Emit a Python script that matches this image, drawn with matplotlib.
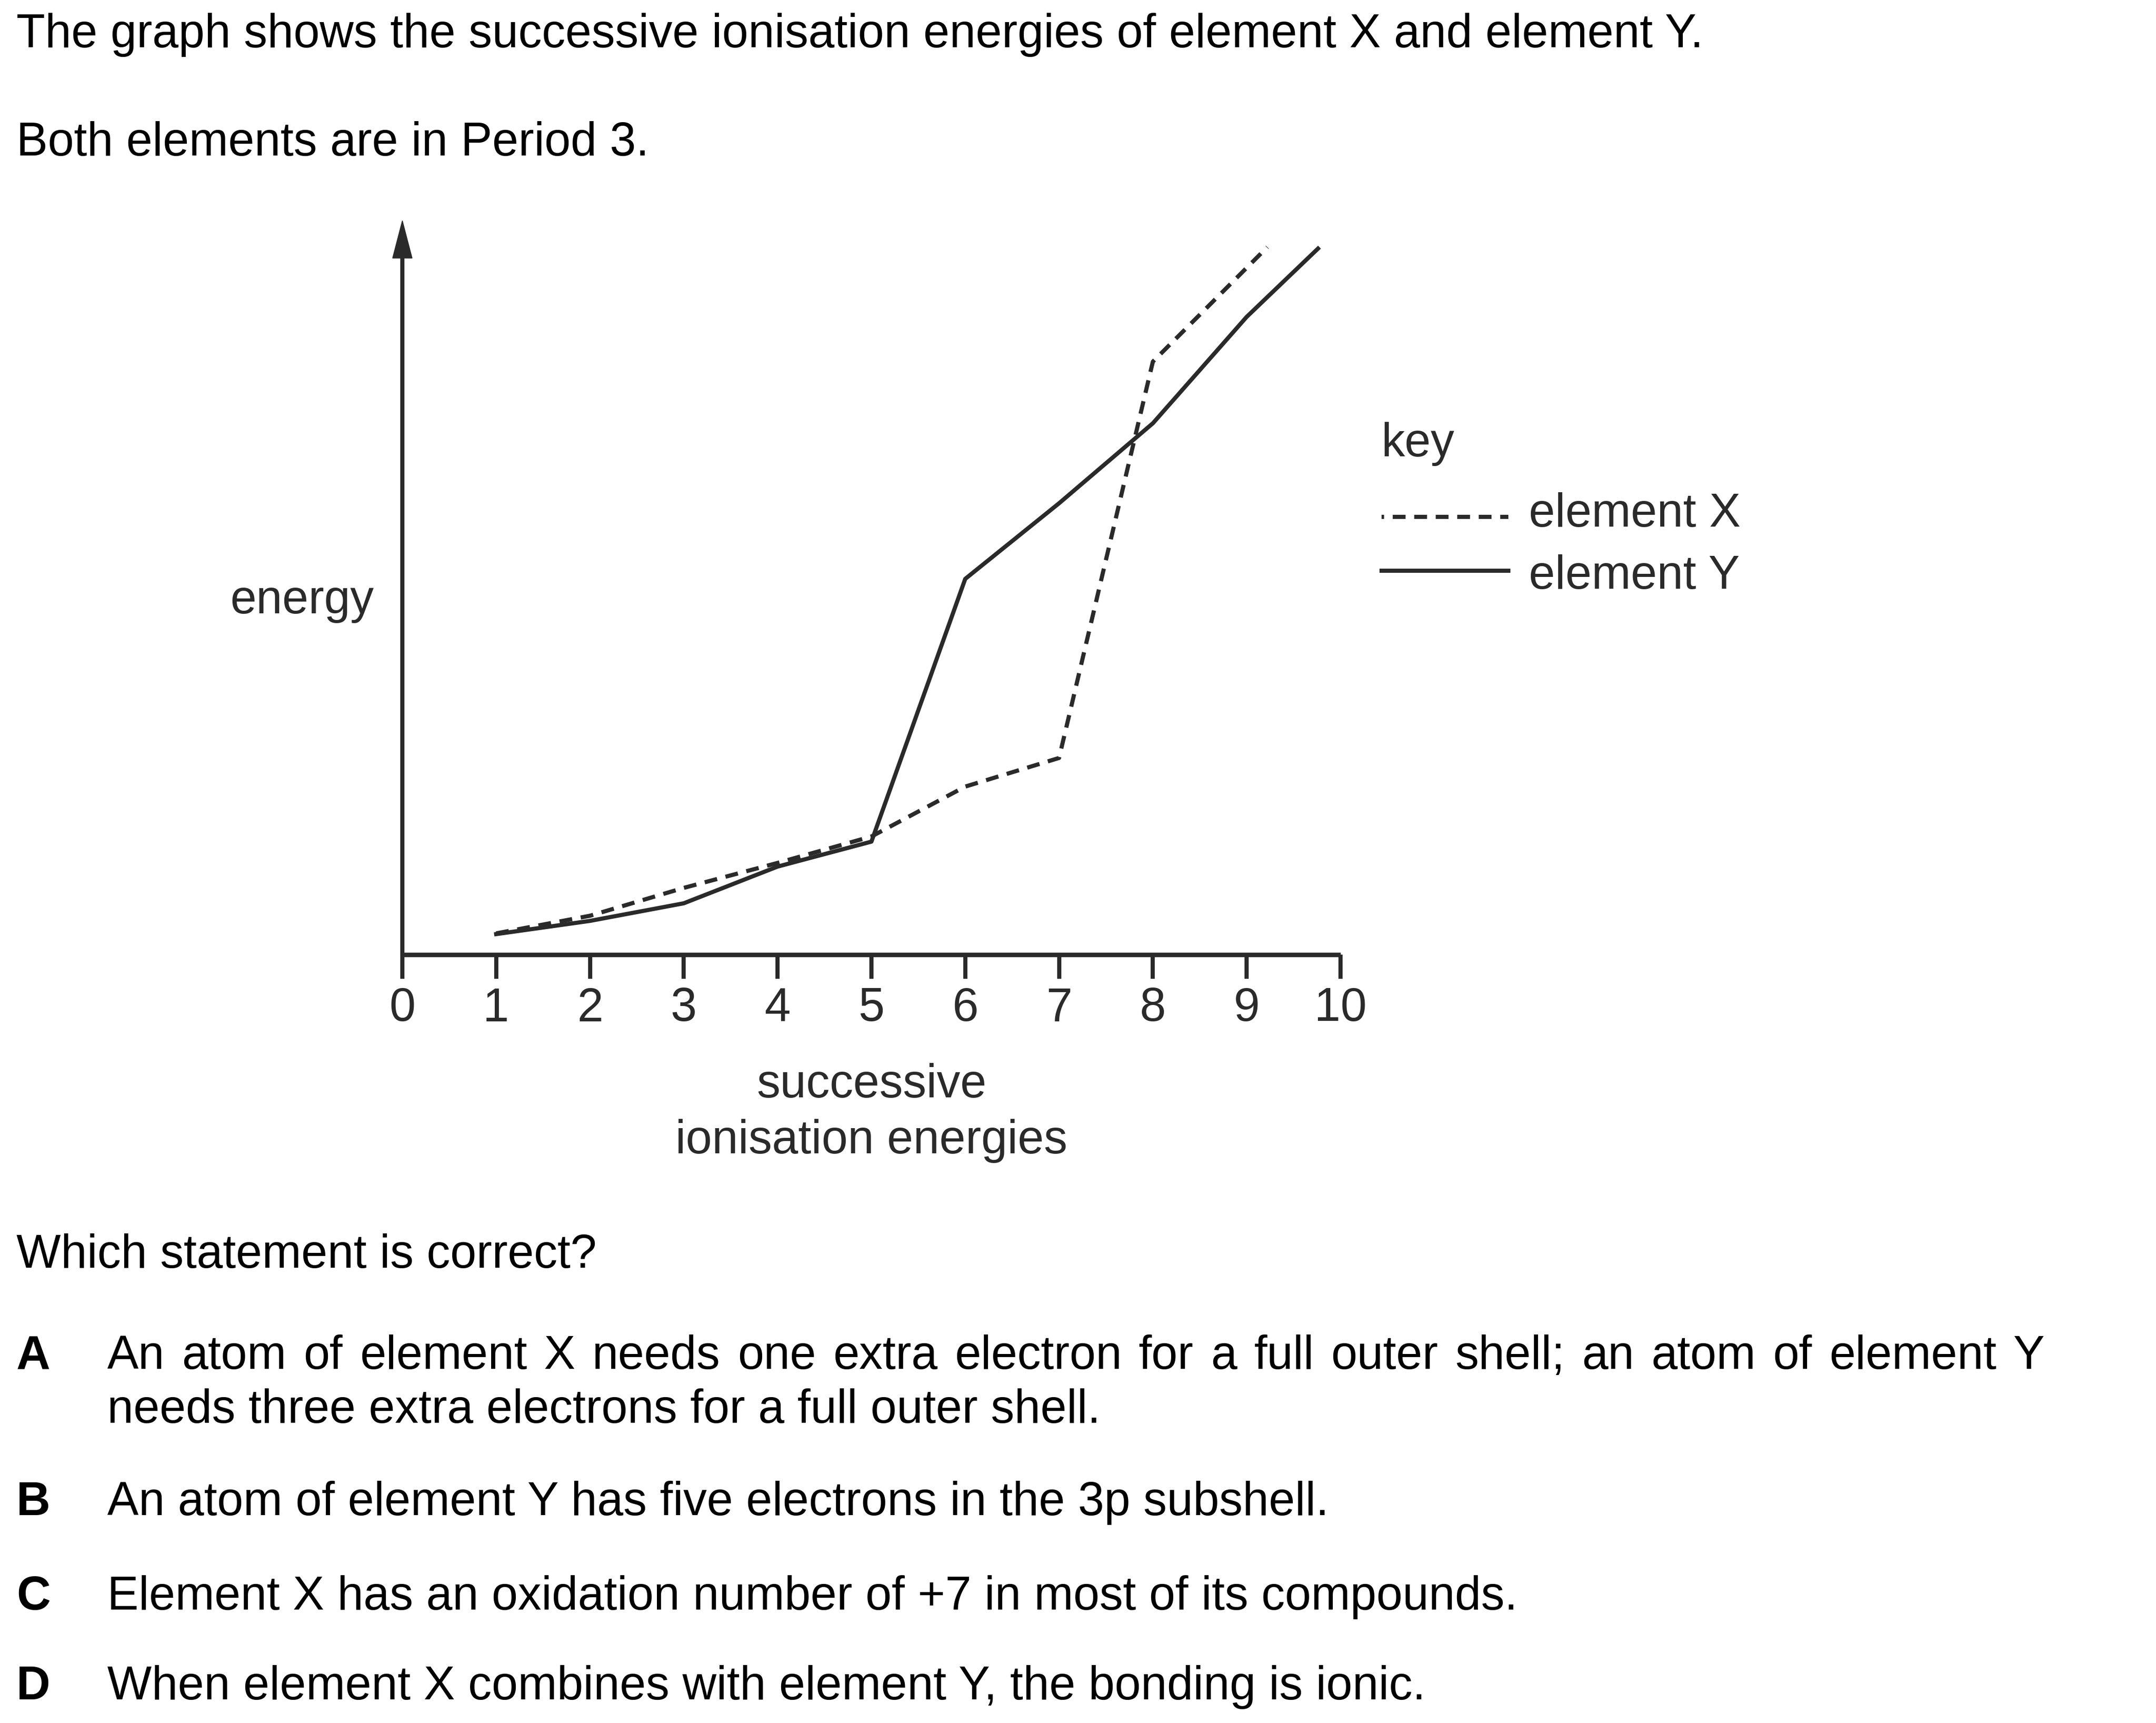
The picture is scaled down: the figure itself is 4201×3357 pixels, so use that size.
import matplotlib
matplotlib.use('Agg')
import matplotlib.pyplot as plt
from matplotlib.lines import Line2D
from matplotlib.patches import Polygon

plt.rcParams['font.family'] = ['Liberation Sans', 'DejaVu Sans']

# data (energy in arbitrary units, axis top = 100)
ie_x = [1, 2, 3, 4, 5, 6, 7, 8, 9.22]
energy_x = [2.9, 5.3, 9.1, 12.5, 16.1, 22.9, 26.8, 80.8, 96.4]
ie_y = [1, 2, 3, 4, 5, 6, 7, 8, 9, 9.76]
energy_y = [2.8, 4.6, 7.0, 12.0, 15.4, 51.2, 61.5, 72.4, 86.9, 96.2]
xticks = list(range(11))

intro = ["The graph shows the successive ionisation energies of element X and element Y.",
         "Both elements are in Period 3."]
question = "Which statement is correct?"
options = [
    ("A", ["An atom of element X needs one extra electron for a full outer shell; an atom of element Y",
           "needs three extra electrons for a full outer shell."]),
    ("B", ["An atom of element Y has five electrons in the 3p subshell."]),
    ("C", ["Element X has an oxidation number of +7 in most of its compounds."]),
    ("D", ["When element X combines with element Y, the bonding is ionic."]),
]

W, H = 4201, 3357
fs = 66
ink = '#2a2a2a'
lw_data = 5.8
dash = (0, (3.1, 2.1))

fig = plt.figure(figsize=(W / 100, H / 100), dpi=100)
fig.patch.set_facecolor('white')


def fpos(x, y):
    return x / W, 1 - y / H


def put(x, y, s, **kw):
    fx, fy = fpos(x, y)
    return fig.text(fx, fy, s, fontsize=kw.pop('fontsize', fs), va='baseline', **kw)


# axes: x 0..10 -> px 784..2612, y 0..100 -> px 1860..430
x0, x1 = 784, 2612
y0, y1 = 1860, 430
ax = fig.add_axes([x0 / W, 1 - y0 / H, (x1 - x0) / W, (y0 - y1) / H])
ax.set_xlim(0, 10)
ax.set_ylim(0, 100)
for s in ax.spines.values():
    s.set_visible(False)
ax.set_yticks([])
ax.set_xticks(xticks)
ax.set_xticklabels([str(t) for t in xticks], fontsize=fs, color=ink)
ax.tick_params(axis='x', direction='out', length=34, width=5.8, color=ink, pad=11)
ax.patch.set_alpha(0)

# axis lines
ax.plot([0, 10], [0, 0], color=ink, lw=6.3, solid_capstyle='butt', clip_on=False)
ax.plot([0, 0], [0, 95], color=ink, lw=5.8, solid_capstyle='butt', clip_on=False)
ax.add_patch(Polygon([(-0.104, 94.9), (0.104, 94.9), (0, 100)], closed=True,
                     color=ink, clip_on=False))

# series
ax.plot(ie_x, energy_x, color=ink, lw=lw_data, ls=dash, clip_on=False)
ax.plot(ie_y, energy_y, color=ink, lw=lw_data, clip_on=False)

# axis labels
put(728, 1195, "energy", ha='right', color=ink)
put(1698, 2138, "successive", ha='center', color=ink)
put(1698, 2247, "ionisation energies", ha='center', color=ink)

# key
put(2692, 889, "key", color=ink)
fig.add_artist(Line2D([2692 / W, 2939 / W], [1 - 1007 / H, 1 - 1007 / H],
                      color=ink, lw=lw_data, ls=(2.5, (3.1, 2.1))))
fig.add_artist(Line2D([2692 / W, 2939 / W], [1 - 1112 / H, 1 - 1112 / H],
                      color=ink, lw=lw_data))
put(2979, 1026, "element X", color=ink)
put(2979, 1147, "element Y", color=ink)

# question text
put(32, 92, intro[0])
put(32, 303, intro[1])
put(32, 2470, question)

opt_base = [2667, 2952, 3136, 3311]
fig.canvas.draw()
renderer = fig.canvas.get_renderer()
for (letter, lines), yb in zip(options, opt_base):
    put(32, yb, letter, fontweight='bold')
    for i, line in enumerate(lines):
        y = yb + i * 105
        if letter == "A" and i == 0:
            # justified line
            words = line.split()
            texts = [put(209, y, w) for w in words]
            widths = [t.get_window_extent(renderer).width for t in texts]
            gap = (3984 - 209 - sum(widths)) / (len(words) - 1)
            xx = 209
            for t, wd in zip(texts, widths):
                t.set_position(fpos(xx, y))
                xx += wd + gap
        else:
            put(209, y, line)

fig.savefig('out.png', dpi=100, facecolor='white')
